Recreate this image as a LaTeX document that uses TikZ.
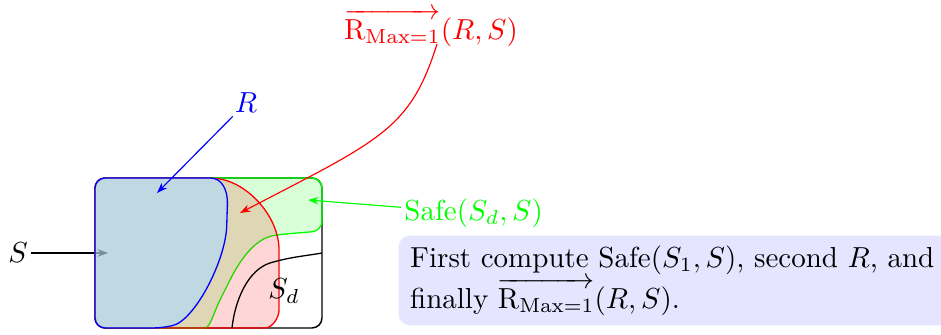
\documentclass[tikz,border=0pt]{standalone}
\usepackage{amsmath}
\usetikzlibrary{arrows.meta}
\definecolor{bluefill}{RGB}{170,217,255}
\tikzset{
  arr/.style={-{Stealth[length=3.6pt,width=2.6pt]}},
  lbl/.style={inner sep=1pt},
  regionline/.style={line width=0.45pt},
}
\begin{document}
\begin{tikzpicture}[x=0.345pt,y=-0.345pt]
\useasboundingbox (0,0) rectangle (941,335);
% outer set S
\draw[rounded corners=3.5pt, line width=0.5pt] (95,178) rectangle (322,328);
% S label and arrow
\node[lbl] (S) at (18,253) {$S$};
\coordinate (sT) at (108,253);
\draw[arr] (S) -- (sT);
% Safe region (green)
\path[rounded corners=3.5pt, fill=green, fill opacity=0.15, draw=green, regionline]
  (95,178) -- (322,178) -- (322,231) -- (285,234)
  .. controls (255,238) and (240,260) .. (225,290)
  .. controls (214,312) and (210,328) .. (195,328)
  -- (95,328) -- cycle;
% R_Max region (red)
\path[rounded corners=3.5pt, fill=red, fill opacity=0.16, draw=red, regionline]
  (95,178) -- (205,178)
  .. controls (245,180) and (279,215) .. (279,260)
  -- (279,300)
  .. controls (279,318) and (272,328) .. (255,328)
  -- (95,328) -- cycle;
% R region (blue)
\path[rounded corners=3.5pt, fill=bluefill, fill opacity=0.6, draw=blue, regionline]
  (95,178) -- (200,178)
  .. controls (222,178) and (228,190) .. (227,215)
  .. controls (226,260) and (195,320) .. (163,328)
  -- (95,328) -- cycle;
% S_d boundary
\coordinate (sdA) at (232,328);
\coordinate (sdB) at (322,253);
\draw[line width=0.45pt] (sdA) .. controls (235,300) and (248,270) .. (270,263)
  .. controls (290,257) and (305,256) .. (sdB);
\node[lbl] (Sd) at (284,291) {$S_d$};
% R label and arrow
\node[lbl, text=blue] (R) at (246,103) {$R$};
\coordinate (rT) at (157,193);
\draw[arr, blue] (R) -- (rT);
% R_Max label and arrow
\node[lbl, text=red] (Rm) at (431,28) {$\overrightarrow{\mathrm{R}_{\mathrm{Max}=1}}(R,S)$};
\coordinate (rmS) at (437,44);
\coordinate (rmT) at (240,213);
\draw[arr, red] (rmS) .. controls (410,130) and (380,140) .. (rmT);
% Safe label and arrow
\node[lbl, text=green, anchor=west] (Safe) at (401,213) {Safe$(S_d,S)$};
\coordinate (gT) at (308,200);
\draw[arr, green] (Safe) -- (gT);
% explanation box
\node[anchor=north west, fill=blue!10, rounded corners=4pt, inner xsep=4pt, inner ysep=3.5pt,
      text width=200pt, align=left] (box) at (398,235)
  {First compute Safe$(S_1,S)$, second $R$, and\\
   finally $\overrightarrow{\mathrm{R}_{\mathrm{Max}=1}}(R,S)$.};
\end{tikzpicture}
\end{document}
